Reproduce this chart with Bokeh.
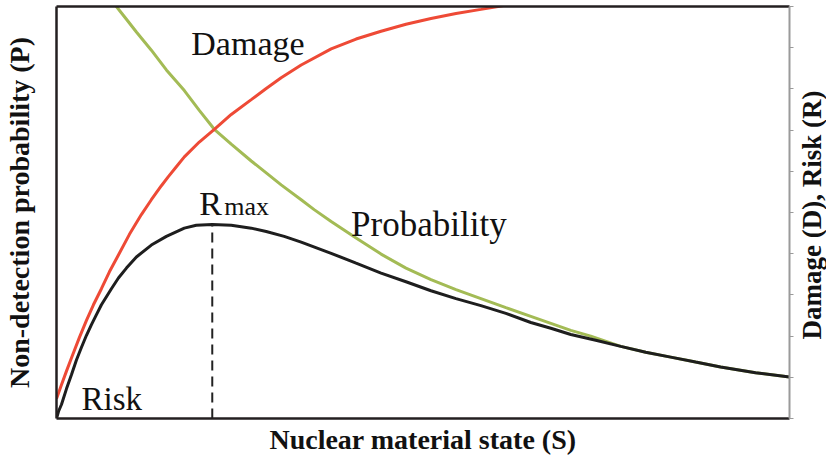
import math
from bokeh.plotting import figure
from bokeh.layouts import row
from bokeh.models import LinearAxis, FixedTicker, Label, Range1d
from bokeh.embed import file_html
from bokeh.resources import INLINE

# ---- data (x = nuclear material state, y = right-axis tick units) ----
risk_x = [0, 0.027, 0.068, 0.136, 0.204, 0.272, 0.341, 0.409, 0.477, 0.545, 0.613, 0.749, 0.845,
          0.954, 1.090, 1.294, 1.499, 1.744, 1.907, 2.125, 2.384, 2.657, 2.861, 3.106, 3.338, 3.747,
          4.087, 4.428, 4.768, 5.109, 5.450, 5.790, 6.131, 6.471, 6.744, 7.016, 7.357, 7.698, 8.038,
          8.379, 8.719, 9.060, 9.537, 10.0]
risk_y = [0, 0.17, 0.34, 0.72, 1.06, 1.42, 1.73, 2.02, 2.28, 2.52, 2.76, 3.15, 3.41,
          3.65, 3.92, 4.21, 4.42, 4.62, 4.69, 4.71, 4.69, 4.62, 4.54, 4.42, 4.28, 4.01,
          3.77, 3.53, 3.32, 3.10, 2.91, 2.74, 2.55, 2.33, 2.19, 2.04, 1.90, 1.75, 1.61,
          1.49, 1.37, 1.25, 1.11, 1.01]

damage_x = [0, 0.068, 0.136, 0.204, 0.313, 0.409, 0.504, 0.613, 0.722, 0.845, 0.995, 1.158, 1.294,
            1.431, 1.526, 1.635, 1.744, 1.948, 2.153, 2.384, 2.657, 2.861, 3.065, 3.338, 3.747,
            4.087, 4.428, 4.768, 5.109, 5.450, 5.790, 6.022, 6.335]
damage_y = [0.48, 0.82, 1.15, 1.47, 1.97, 2.38, 2.76, 3.15, 3.56, 3.97, 4.47, 4.95, 5.31,
            5.65, 5.87, 6.11, 6.35, 6.71, 7.02, 7.38, 7.74, 8.01, 8.27, 8.58, 8.97,
            9.21, 9.40, 9.57, 9.71, 9.83, 9.93, 10.0, 10.10]

prob_x = [0.749, 0.817, 0.954, 1.090, 1.294, 1.499, 1.744, 1.948, 2.153, 2.384, 2.657, 2.861,
          3.065, 3.338, 3.515, 3.747, 4.087, 4.428, 4.768, 5.109, 5.450, 5.790, 6.131, 6.471,
          6.744, 7.016, 7.289, 7.698, 8.038, 8.379, 8.719, 9.060, 9.537, 10.0]
prob_y = [10.19, 10.0, 9.69, 9.38, 8.94, 8.46, 7.96, 7.48, 7.02, 6.66, 6.25, 5.96,
          5.67, 5.31, 5.07, 4.78, 4.38, 3.99, 3.65, 3.37, 3.13, 2.91, 2.69, 2.48,
          2.31, 2.14, 2.00, 1.75, 1.61, 1.49, 1.37, 1.25, 1.11, 1.01]

rmax_x = [2.125, 2.125]
rmax_y = [0.0, 4.71]

right_ticks = [0, 1, 2, 3, 4, 5, 6, 7, 8, 9, 10]

SERIF = "Liberation Serif"
TXT = "#111111"

p = figure(width=795, height=457, output_backend="svg", toolbar_location=None,
           x_range=Range1d(0, 10), y_range=Range1d(0, 10),
           min_border_left=55, min_border_right=6, min_border_top=6, min_border_bottom=37,
           x_axis_location=None, y_axis_location=None)
p.grid.visible = False
p.outline_line_color = None
p.background_fill_color = "white"
p.border_fill_color = "white"


def frame_axis(side, color, width, ticks, label=None, standoff=0, size="28px"):
    ax = LinearAxis(ticker=FixedTicker(ticks=ticks))
    ax.axis_line_color = color
    ax.axis_line_width = width
    ax.major_tick_line_color = color
    ax.major_tick_line_width = 1
    ax.major_tick_in = 0
    ax.major_tick_out = 4 if ticks else 0
    ax.minor_tick_line_color = None
    ax.major_label_overrides = {t: "" for t in ticks}
    ax.major_label_text_font_size = "0px"
    ax.major_label_standoff = 0
    if label:
        ax.axis_label = label
        ax.axis_label_text_font = SERIF
        ax.axis_label_text_font_style = "bold"
        ax.axis_label_text_font_size = size
        ax.axis_label_text_color = TXT
        ax.axis_label_standoff = standoff
    p.add_layout(ax, side)
    return ax


frame_axis("left", "#231f20", 2.5, [], "Non-detection probability (P)", standoff=22)
frame_axis("below", "#231f20", 2.5, [], "Nuclear material state (S)", standoff=5)
frame_axis("above", "#231f20", 2.5, [])
frame_axis("right", "#9a9a9a", 2, right_ticks)

p.line(prob_x, prob_y, line_color="#a3bb55", line_width=3)
p.line(damage_x, damage_y, line_color="#ee4a36", line_width=3)
p.line(risk_x, risk_y, line_color="#1e1e1e", line_width=3)
p.line(rmax_x, rmax_y, line_color="#222222", line_width=2, line_dash="10 6")


def lab(fig, x, y, text, size, bold=False, align="left", angle=0.0):
    fig.add_layout(Label(x=x, y=y, text=text, text_font=SERIF, text_font_size=f"{size}px",
                         text_font_style="bold" if bold else "normal",
                         text_color=TXT, text_align=align, text_baseline="alphabetic",
                         angle=angle))


lab(p, 1.839, 9.106, "Damage", 34)
lab(p, 1.948, 5.217, "R", 34)
lab(p, 2.289, 5.145, "max", 26)
lab(p, 4.019, 4.710, "Probability", 35)
lab(p, 0.341, 0.483, "Risk", 33)

# strip to the right holding the right-hand axis title (reads bottom to top)
p2 = figure(width=31, height=457, output_backend="svg", toolbar_location=None,
            x_range=Range1d(0, 31), y_range=p.y_range,
            min_border_left=0, min_border_right=0, min_border_top=6, min_border_bottom=37,
            x_axis_location=None, y_axis_location=None)
p2.grid.visible = False
p2.outline_line_color = None
p2.background_fill_color = "white"
p2.border_fill_color = "white"
lab(p2, 16, 4.94, "Damage (D), Risk (R)", 27, bold=True, align="center", angle=math.pi / 2)

layout = row(p, p2, spacing=0)
open("out.html", "w").write(file_html(layout, INLINE))
